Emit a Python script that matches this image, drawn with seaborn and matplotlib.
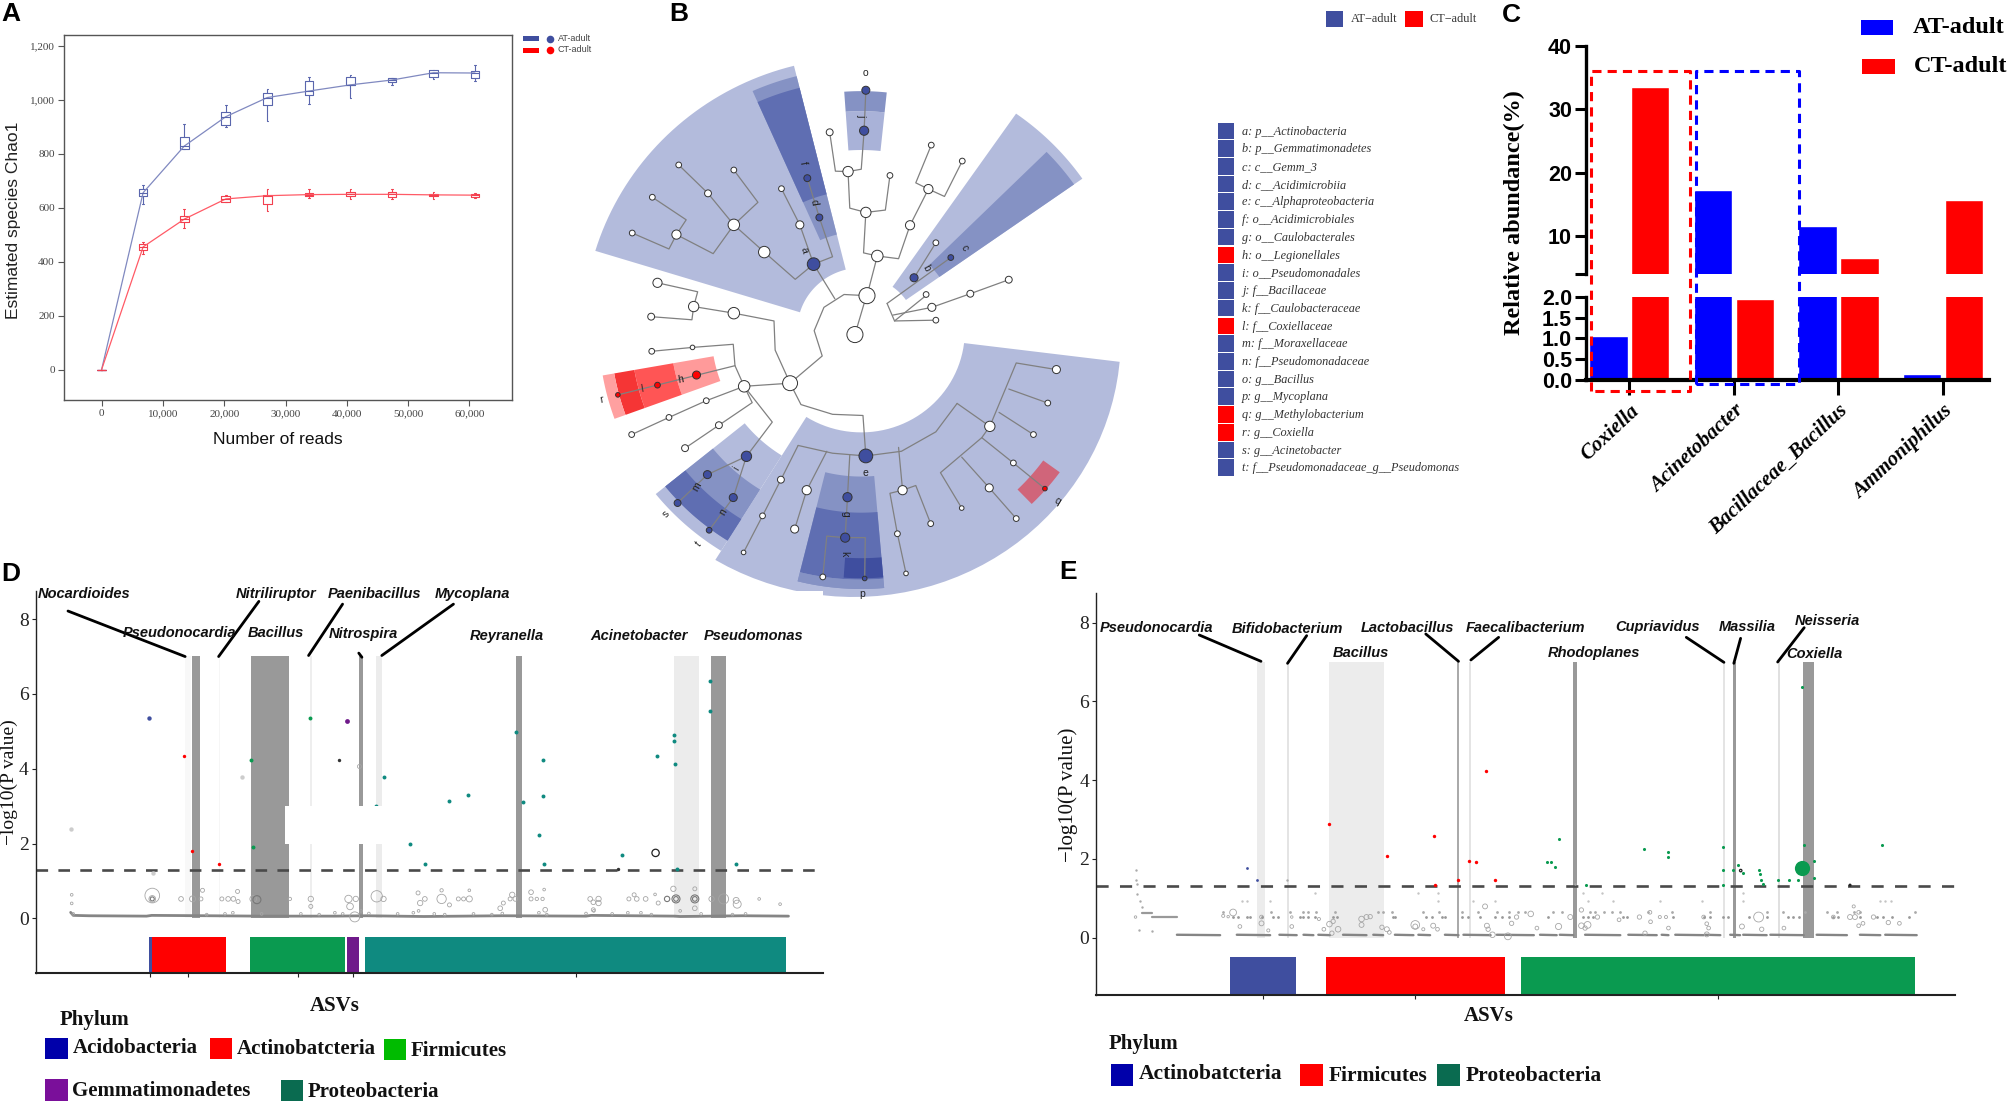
import numpy as np
import pandas as pd
import matplotlib
matplotlib.use('Agg')
import matplotlib.pyplot as plt
import seaborn as sns

# Panel A: rarefaction boxes
reads = [0, 6774, 13484, 20258, 27032, 33806, 40580, 47355, 54129, 60903]
at_low = [0, 613, 818, 898, 923, 986, 1009, 1056, 1076, 1070]
at_q1 = [0, 643, 818, 909, 982, 1017, 1054, 1068, 1084, 1082]
at_med = [0, 656, 829, 938, 1009, 1033, 1056, 1074, 1101, 1100]
at_q3 = [0, 670, 861, 957, 1027, 1072, 1084, 1080, 1111, 1106]
at_high = [0, 684, 910, 981, 1042, 1087, 1091, 1082, 1113, 1128]
ct_low = [0, 430, 524, 622, 590, 637, 634, 634, 633, 638]
ct_q1 = [0, 445, 546, 623, 615, 643, 642, 640, 642, 641]
ct_med = [0, 455, 558, 633, 645, 649, 650, 650, 648, 647]
ct_q3 = [0, 465, 568, 643, 648, 655, 657, 659, 653, 653]
ct_high = [0, 472, 597, 649, 671, 668, 668, 668, 657, 656]

# Panel B: cladogram, in layout units
wedge_t1 = [104, 104, 104, 84, 84, 35, 35, -122, -141, -141, -141, -104, -104, -104, -94, -46, -170, -170, -170, -170]
wedge_t2 = [163, 114, 114, 94, 94, 55, 44.5, -7, -122, -122, -122, -85, -85, -85, -85, -36, -160, -160, -160, -160]
wedge_r0 = [0.235, 0.37, 0.525, 0.675, 0.82, 0.2, 0.35, 0.38, 0.55, 0.70, 0.83, 0.545, 0.68, 0.93, 0.85, 0.825, 0.55, 0.70, 0.845, 0.92]
wedge_r1 = [1.02, 0.98, 0.935, 0.82, 0.895, 0.99, 0.953, 1.01, 0.97, 0.925, 0.925, 0.965, 0.93, 0.965, 0.925, 0.9, 0.70, 0.845, 0.92, 0.963]
wedge_r1_end = [1.02, 0.98, 0.935, 0.82, 0.895, 0.99, 0.953, 0.955, 0.97, 0.925, 0.925, 0.965, 0.93, 0.965, 0.925, 0.9, 0.70, 0.845, 0.92, 0.963]
wedge_colors = ['#b3bbdc', '#8592c4', '#5f6eb2', '#a9b2d8', '#8592c4', '#b3bbdc', '#8592c4', '#b3bbdc', '#b3bbdc',
                '#8592c4', '#5f6eb2', '#8592c4', '#5f6eb2', '#8592c4', '#3f4e9f', '#d0657a', '#ff9a9a', '#ff5555', '#f53535', '#ffa0a0']
white_x = [479, 500, 518, 498, 467, 575, 607, 612, 666, 540, 435, 321, 268, 168, 223, 268, 172, 126, 91, 351, 383, 135, 198, 268,
           124, 125, 196, 366, 286, 220, 155, 90, 242, 183, 350, 395, 318, 374, 285, 562, 611, 553, 568, 423, 714, 790, 815, 830,
           755, 713, 760, 665, 620, 603, 613, 680, 747, 620]
white_y = [860, 760, 658, 546, 441, 579, 486, 373, 414, 451, 340, 648, 578, 603, 497, 437, 424, 507, 599, 485, 578, 727, 788, 805,
           814, 903, 893, 985, 993, 1030, 1073, 1117, 1093, 1152, 1233, 1260, 1326, 1360, 1420, 1260, 1346, 1372, 1474, 1483, 1096,
           1117, 1036, 950, 1190, 1254, 1333, 1306, 624, 757, 790, 755, 719, 823]
white_r = [14, 14, 10, 9, 9, 8, 8, 5, 5, 5, 6, 10, 10, 8, 6, 5, 5, 5, 5, 5, 7, 8, 9, 10, 6, 5, 4, 13, 10, 5, 5, 5, 6, 6, 6, 8, 5, 7, 4,
           8, 5, 5, 4, 5, 9, 5, 5, 7, 5, 7, 5, 4, 5, 5, 7, 6, 6, 5]
blue_x = [498, 495, 396, 417, 407, 582, 646, 290, 222, 267, 170, 225, 498, 466, 462, 496]
blue_y = [232, 336, 458, 559, 679, 714, 662, 1173, 1220, 1279, 1293, 1363, 1172, 1278, 1382, 1487]
blue_r = [7, 8, 6, 6, 11, 7, 5, 9, 7, 7, 6, 5, 12, 8, 8, 4]
red_x = [203, 135, 66, 810]
red_y = [964, 990, 1015, 1256]
red_r = [7, 5, 4, 4]
tree_lines = [
    [(497, 770), (479, 860)],
    [(500, 760), (460, 757), (425, 790), (408, 850), (422, 915), (366, 985)],
    [(444, 768), (407, 679)],
    [(407, 679), (375, 718), (321, 648), (268, 578)],
    [(407, 679), (440, 660), (417, 559), (396, 458)],
    [(407, 679), (383, 578), (351, 485)],
    [(268, 578), (310, 520), (268, 437)],
    [(268, 578), (223, 497), (172, 424)],
    [(268, 578), (232, 652), (168, 603), (185, 565), (126, 507)],
    [(168, 603), (155, 640), (91, 599)],
    [(500, 760), (518, 658), (494, 650), (498, 546), (470, 535), (467, 441), (445, 440), (435, 340)],
    [(467, 441), (490, 435), (495, 336), (498, 232)],
    [(518, 658), (555, 665), (575, 579), (607, 486), (585, 470), (612, 373)],
    [(607, 486), (635, 505), (666, 414)],
    [(498, 546), (532, 540), (540, 451)],
    [(535, 780), (646, 662)],
    [(582, 714), (620, 624)],
    [(535, 780), (548, 825), (620, 823)],
    [(548, 825), (605, 757)],
    [(545, 810), (613, 790), (680, 755), (747, 719)],
    [(366, 985), (340, 900), (338, 825), (268, 805), (198, 788), (205, 750), (135, 727)],
    [(198, 788), (195, 822), (124, 814)],
    [(366, 985), (286, 993), (270, 940), (267, 885), (196, 893), (125, 903)],
    [(286, 993), (220, 1030), (155, 1073), (90, 1117)],
    [(286, 993), (300, 1035), (242, 1093), (183, 1152)],
    [(286, 993), (335, 1085), (290, 1173), (222, 1220), (170, 1293)],
    [(290, 1173), (267, 1279), (225, 1363)],
    [(366, 985), (385, 1040), (440, 1065), (493, 1068), (498, 1172)],
    [(380, 1145), (440, 1165), (498, 1172), (560, 1160), (620, 1110), (657, 1037)],
    [(380, 1145), (350, 1233), (318, 1326), (285, 1420)],
    [(430, 1160), (395, 1260), (374, 1360)],
    [(470, 1170), (466, 1278), (462, 1382), (430, 1378), (423, 1483)],
    [(462, 1382), (497, 1382), (496, 1487)],
    [(555, 1150), (562, 1260), (540, 1268), (553, 1372), (568, 1474)],
    [(562, 1260), (585, 1248), (611, 1346)],
    [(657, 1037), (714, 1096), (760, 933), (830, 950)],
    [(747, 1000), (815, 1036)],
    [(730, 1060), (790, 1117)],
    [(714, 1096), (700, 1125), (755, 1190), (810, 1256)],
    [(700, 1125), (628, 1215), (665, 1306)],
    [(665, 1175), (713, 1254), (760, 1333)],
    [(270, 940), (66, 1015)],
]
clade_letters = ['f', 'd', 'a', 'j', 'b', 'c', 'h', 'l', 'r', 'i', 'm', 'n', 's', 't', 'e', 'g', 'k', 'p', 'q', 'o']
letter_x = [388, 408, 390, 490, 603, 670, 176, 107, 38, 273, 203, 250, 150, 207, 498, 462, 460, 492, 832, 498]
letter_y = [420, 520, 642, 295, 688, 638, 975, 1000, 1028, 1205, 1252, 1315, 1322, 1398, 1215, 1320, 1424, 1528, 1288, 188]
letter_rot = [-80, -80, -75, -90, -60, -60, 10, 10, 10, 60, 60, 60, 50, 50, 0, -90, -90, 0, -30, 0]
clade_legend = ['a: p__Actinobacteria', 'b: p__Gemmatimonadetes', 'c: c__Gemm_3', 'd: c__Acidimicrobiia', 'e: c__Alphaproteobacteria',
                'f: o__Acidimicrobiales', 'g: o__Caulobacterales', 'h: o__Legionellales', 'i: o__Pseudomonadales', 'j: f__Bacillaceae',
                'k: f__Caulobacteraceae', 'l: f__Coxiellaceae', 'm: f__Moraxellaceae', 'n: f__Pseudomonadaceae', 'o: g__Bacillus',
                'p: g__Mycoplana', 'q: g__Methylobacterium', 'r: g__Coxiella', 's: g__Acinetobacter', 't: f__Pseudomonadaceae_g__Pseudomonas']
clade_legend_group = ['AT', 'AT', 'AT', 'AT', 'AT', 'AT', 'AT', 'CT', 'AT', 'AT', 'AT', 'CT', 'AT', 'AT', 'AT', 'AT', 'CT', 'CT', 'AT', 'AT']

# Panel C: relative abundance
genera = ['Coxiella', 'Acinetobacter', 'Bacillaceae_Bacillus', 'Ammoniphilus']
at_abundance = [1.05, 17.2, 11.5, 0.15]
ct_abundance = [33.5, 1.95, 6.5, 15.6]

# Panel D: manhattan plot
d_band_start = [354, 366, 418, 480, 592, 686, 719, 987, 1288, 1358]
d_band_end = [365, 383, 420, 553, 597, 694, 730, 998, 1336, 1387]
d_band_shade = ['#f8f8f8', '#999999', '#f6f6f6', '#999999', '#eeeeee', '#999999', '#ececec', '#999999', '#ececec', '#999999']
d_phylum_start = [284, 290, 478, 664, 698]
d_phylum_end = [290, 432, 660, 687, 1503]
d_blue_x = [285]
d_blue_y = [5.35]
d_red_x = [352, 366, 418]
d_red_y = [4.35, 1.8, 1.45]
d_green_x = [480, 484, 593]
d_green_y = [4.22, 1.91, 5.35]
d_purple_x = [664]
d_purple_y = [5.28]
d_teal_x = [733, 718, 783, 813, 859, 895, 987, 999, 1037, 1038, 1030, 1039, 1189, 1255, 1289, 1289, 1290, 1293, 1357, 1357, 1407]
d_teal_y = [3.78, 3.0, 1.98, 1.45, 3.15, 3.3, 4.98, 3.1, 4.23, 3.28, 2.23, 1.45, 1.69, 4.34, 4.91, 4.75, 4.12, 1.33, 6.35, 5.55, 1.45]
d_open_x = [291, 291, 137, 137, 346, 368, 387, 384, 424, 436, 446, 455, 454, 484, 554, 594, 594, 666, 669, 680,
            678, 720, 733, 799, 803, 812, 844, 844, 859, 876, 886, 897, 897, 956, 962, 979, 975, 985, 1015, 1015,
            1026, 1037, 1042, 1040, 1128, 1134, 1144, 1144, 1134, 1202, 1212, 1217, 1234, 1252, 1258, 1287, 1328, 1328, 1360, 1383,
            1407, 1409, 1451, 1491]
d_open_y = [0.61, 0.52, 0.63, 0.4, 0.52, 0.52, 0.75, 0.52, 0.52, 0.52, 0.52, 0.45, 0.72, 0.52, 0.52, 0.52, 0.32, 0.52, 0.32, 0.52,
            0.04, 0.59, 0.52, 0.68, 0.41, 0.52, 0.52, 0.75, 0.36, 0.52, 0.52, 0.52, 0.75, 0.27, 0.41, 0.63, 0.52, 0.52, 0.70, 0.52,
            0.52, 0.52, 0.23, 0.77, 0.52, 0.43, 0.52, 0.41, 0.23, 0.52, 0.63, 0.52, 0.52, 0.64, 0.41, 0.79, 0.79, 0.27, 0.52, 0.52,
            0.48, 0.38, 0.52, 0.38]
d_open_r = [22, 10, 4, 4, 7, 9, 6, 6, 6, 7, 7, 6, 6, 10, 5, 8, 6, 11, 10, 8, 15, 17, 8, 6, 8, 7, 14, 5, 6, 6, 6, 9, 4, 7, 6, 8, 6, 7, 7, 6,
            5, 5, 7, 4, 7, 7, 8, 8, 6, 6, 6, 7, 7, 4, 6, 8, 6, 7, 8, 15, 9, 12, 4, 4]
d_dark_x = [291, 491, 1275, 1292, 1292, 1328, 1328]
d_dark_y = [0.52, 0.5, 0.52, 0.52, 0.52, 0.52, 0.52]
d_dark_r = [6, 12, 8, 12, 7, 12, 7]
d_low_x = [140, 395, 430, 445, 500, 575, 610, 640, 655, 690, 705, 760, 790, 800, 830, 850, 905, 940, 960, 1030,
           1045, 1120, 1135, 1170, 1200, 1225, 1245, 1300, 1340, 1400, 1425]
d_low_y = [0.12, 0.1, 0.12, 0.15, 0.12, 0.12, 0.1, 0.15, 0.12, 0.2, 0.13, 0.12, 0.15, 0.2, 0.12, 0.1, 0.12, 0.1, 0.13, 0.15,
           0.1, 0.13, 0.2, 0.12, 0.15, 0.15, 0.1, 0.2, 0.12, 0.1, 0.12]
d_pale_x = [135, 462, 293]
d_pale_y = [2.4, 3.78, 1.2]
d_base_x = [135, 140, 170, 280, 290, 400, 500, 640, 700, 810, 960, 1120, 1130, 1290, 1300, 1420, 1507]
d_base_y = [0.16, 0.08, 0.07, 0.06, 0.08, 0.07, 0.06, 0.06, 0.07, 0.05, 0.07, 0.06, 0.08, 0.06, 0.05, 0.07, 0.06]

# Panel E: manhattan plot
e_band_start = [352, 400, 469, 675, 695, 864, 1107, 1122, 1195, 1236]
e_band_end = [365, 404, 558, 679, 698, 870, 1109, 1127, 1198, 1254]
e_band_shade = ['#ececec', '#e4e4e4', '#ececec', '#aaaaaa', '#e4e4e4', '#999999', '#e4e4e4', '#999999', '#e0e0e0', '#999999']
e_phylum_start = [308, 463, 780]
e_phylum_end = [415, 753, 1417]
e_blue_x = [335, 351]
e_blue_y = [1.77, 1.45]
e_red_x = [468, 562, 638, 640, 695, 706, 723, 737, 677]
e_red_y = [2.89, 2.06, 2.59, 1.33, 1.95, 1.92, 4.22, 1.45, 1.45]
e_green_x = [840, 822, 828, 834, 885, 978, 1017, 1017, 1107, 1107, 1107, 1122, 1131, 1138, 1165, 1167, 1168, 1171, 1195, 1214, 1227,
             1234, 1237, 1254, 1254, 1364]
e_green_y = [2.5, 1.92, 1.92, 1.78, 1.33, 2.24, 2.16, 2.05, 2.31, 1.72, 1.33, 1.72, 1.84, 1.63, 1.72, 1.62, 1.45, 1.35, 1.45, 1.45, 1.45,
             6.36, 2.34, 1.95, 1.5, 2.35]
e_big_x = [1235]
e_big_y = [1.76]
e_gray_x = [155, 155, 158, 158, 162, 165, 160, 182, 400, 866]
e_gray_y = [1.72, 1.45, 1.35, 1.1, 0.94, 0.78, 0.2, 0.17, 1.45, 1.35]
e_open_x = [313, 297, 305, 324, 359, 359, 370, 408, 408, 452, 460, 469, 475, 483, 473, 521, 529, 535, 521, 554, 562, 566, 608, 608, 621,
            637, 644, 721, 724, 726, 733, 758, 772, 764, 795, 805, 877, 859, 840, 887, 877, 883, 903, 938, 971, 988, 989, 1004, 1014, 1018,
            980, 1075, 1080, 1083, 1080, 1137, 1164, 1169, 1205, 1285, 1312, 1320, 1326, 1326, 1333, 1350, 1374, 1392, 1318, 155]
e_open_y = [0.635, 0.55, 0.53, 0.28, 0.52, 0.36, 0.18, 0.52, 0.28, 0.47, 0.21, 0.34, 0.41, 0.21, 0.11, 0.47, 0.52, 0.53, 0.32, 0.26, 0.21,
            0.13, 0.32, 0.28, 0.21, 0.3, 0.21, 0.79, 0.3, 0.21, 0.07, 0.03, 0.52, 0.36, 0.6, 0.24, 0.7, 0.52, 0.28, 0.32, 0.3, 0.24, 0.52,
            0.45, 0.52, 0.64, 0.4, 0.52, 0.52, 0.24, 0.11, 0.52, 0.35, 0.24, 0.08, 0.28, 0.52, 0.21, 0.24, 0.52, 0.52, 0.52, 0.64, 0.3, 0.36,
            0.52, 0.38, 0.36, 0.79, 0.52]
e_open_r = [5.5, 2.5, 2, 3, 3, 4, 2.5, 2, 3, 2.5, 3, 4.5, 3.5, 4.5, 3.5, 4.5, 4, 3.5, 4, 3.5, 4, 3, 7, 4, 2.5, 4, 3, 4, 4, 3.5, 4.5, 5.5, 3.5,
            3.5, 4.5, 3, 3.5, 4, 5, 5.5, 4.5, 3.5, 3.5, 3, 3.5, 3, 3, 2.5, 2.5, 3, 3.5, 3, 3, 3, 4, 4, 8, 3.5, 3, 3, 4, 4, 3, 3, 3, 3.5, 3.5, 3, 2.5, 2]
e_row_52 = [313, 321, 335, 341, 359, 378, 386, 421, 427, 435, 445, 475, 481, 572, 575, 626, 635, 651, 656, 683, 694, 713, 737, 748, 759,
            823, 880, 888, 896, 945, 951, 1026, 1075, 1085, 1107, 1115, 1148, 1177, 1212, 1220, 1229, 1237, 1245, 1285, 1293, 1328, 1355, 1366, 1380, 1408]
e_row_66 = [297, 375, 405, 427, 435, 448, 478, 548, 556, 570, 621, 647, 683, 710, 740, 759, 775, 786, 831, 845, 891, 899, 913, 926, 940, 985,
            1023, 1085, 1177, 1204, 1239, 1274, 1291, 1318, 1328, 1417]
e_row_94 = [327, 335, 372, 645, 702, 737, 887, 929, 1005, 1073, 1138, 1360, 1369, 1379]
e_row_113 = [445, 612, 644, 879, 910, 1138]
e_base_start = [222, 319, 388, 427, 451, 491, 540, 575, 613, 656, 686, 740, 810, 842, 883, 953, 1007, 1029, 1077, 1118, 1139, 1183, 1258, 1328, 1369]
e_base_end = [292, 373, 416, 443, 470, 529, 556, 605, 632, 678, 730, 800, 837, 864, 940, 999, 1018, 1075, 1102, 1134, 1177, 1237, 1307, 1361, 1420]
e_short_start = [165, 182]
e_short_end = [181, 222]
e_short_y = [0.63, 0.52]

d_labels = ['Nocardioides', 'Nitriliruptor', 'Paenibacillus', 'Mycoplana', 'Pseudonocardia', 'Bacillus', 'Nitrospira', 'Reyranella', 'Acinetobacter', 'Pseudomonas']
e_labels = ['Pseudonocardia', 'Bifidobacterium', 'Lactobacillus', 'Faecalibacterium', 'Cupriavidus', 'Massilia', 'Neisseria', 'Bacillus', 'Rhodoplanes', 'Coxiella']

W, H = 2008, 1101
BLUE, RED, GREEN, PURPLE, TEAL = '#3f4e9f', '#ff0000', '#0a9a50', '#6f1a8a', '#0f8a80'

sns.set_theme(style='white')
plt.rcParams['font.family'] = ['Liberation Sans', 'DejaVu Sans']
fig = plt.figure(figsize=(W / 100, H / 100), dpi=100)


def px_axes(x0, y0, x1, y1):
    return fig.add_axes([x0 / W, 1 - y1 / H, (x1 - x0) / W, (y1 - y0) / H])


# Panel A
rows = []
for group, stats in [('AT', [at_low, at_q1, at_med, at_q3, at_high]), ('CT', [ct_low, ct_q1, ct_med, ct_q3, ct_high])]:
    for stat in stats:
        rows.append(pd.DataFrame({'reads': reads, 'chao': stat, 'group': group}))
box_df = pd.concat(rows)
med_df = pd.concat([pd.DataFrame({'reads': reads, 'chao': at_med, 'group': 'AT'}),
                    pd.DataFrame({'reads': reads, 'chao': ct_med, 'group': 'CT'})])

ax = px_axes(64.5, 35, 512.5, 399.5)
sns.boxplot(data=box_df, x='reads', y='chao', hue='group', palette={'AT': '#5a66ad', 'CT': '#f2404f'}, native_scale=True, dodge=False,
            fill=False, whis=(0, 100), width=0.21, linewidth=0.8, capwidths=250, legend=False, ax=ax)
sns.lineplot(data=med_df, x='reads', y='chao', hue='group', palette={'AT': '#8089c0', 'CT': '#ff5a66'}, estimator=None, linewidth=0.9, legend=False, ax=ax)
ax.set_xlim(-6052, 67030)
ax.set_ylim(-111, 1241)
ax.set_xticks(range(0, 60001, 10000))
ax.set_xticklabels([f'{v:,}' for v in range(0, 60001, 10000)], fontsize=8, family='Liberation Serif', color='#444444')
ax.set_yticks(range(0, 1201, 200))
ax.set_yticklabels([f'{v:,}' for v in range(0, 1201, 200)], fontsize=8, family='Liberation Serif', color='#444444')
ax.tick_params(length=4, width=0.8, color='#555555', bottom=True, left=True, pad=3)
for side in ax.spines.values():
    side.set_color('#555555')
    side.set_linewidth(1)
ax.set_xlabel('')
ax.set_ylabel('')

# Panel B
ax = px_axes(580, 0, 1480, 610)
ax.set_xlim(0, 1568)
ax.set_ylim(1568, 0)
ax.axis('off')
for t1, t2, r0, r1, r1b, col in zip(wedge_t1, wedge_t2, wedge_r0, wedge_r1, wedge_r1_end, wedge_colors):
    t = np.radians(np.linspace(t1, t2, 40))
    outer = np.linspace(r1, r1b, 40)
    xs = np.r_[outer * np.cos(t), r0 * np.cos(t[::-1])]
    ys = np.r_[outer * np.sin(t), r0 * np.sin(t[::-1])]
    ax.fill(490 + 475 * xs, 850 - 688 * ys, color=col, lw=0, zorder=1)
for line in tree_lines:
    xs, ys = zip(*line)
    ax.plot(xs, ys, color='#808080', lw=0.9, zorder=2)


def nodes(ax, x, y, r, col):
    sizes = [(2 * v / 1.742 * 0.72) ** 2 for v in r]
    sns.scatterplot(x=x, y=y, s=sizes, color=col, edgecolor='#333333', linewidth=0.7, zorder=3, ax=ax)


nodes(ax, white_x, white_y, white_r, 'white')
nodes(ax, blue_x, blue_y, blue_r, BLUE)
nodes(ax, red_x, red_y, red_r, RED)
for name, x, y, rot in zip(clade_letters, letter_x, letter_y, letter_rot):
    ax.text(x, y, name, fontsize=7.5, rotation=rot, ha='center', va='center', color='#222222', zorder=4)
ax.set_xlim(0, 1568)
ax.set_ylim(1568, 0)

# Panel C
bar_df = pd.DataFrame({'genus': genera * 2, 'abundance': at_abundance + ct_abundance, 'group': ['AT'] * 4 + ['CT'] * 4})
ax_top = px_axes(1586, 45.7, 1989, 274)
ax_low = px_axes(1586, 296.7, 1989, 380)
for ax in [ax_top, ax_low]:
    sns.barplot(data=bar_df, x='genus', y='abundance', hue='group', palette={'AT': '#0000ff', 'CT': '#ff0000'}, width=0.8, gap=0.08,
                saturation=1, legend=False, ax=ax)
    ax.set_xlim(-0.414, 3.44)
    ax.set_xlabel('')
    ax.set_ylabel('')
    for name in ['top', 'right']:
        ax.spines[name].set_visible(False)
    ax.spines['left'].set_linewidth(2.4)
    ax.spines['left'].set_color('black')
    ax.tick_params(axis='y', left=True, length=8, width=2.2, color='black', pad=2)
ax_top.set_ylim(4, 40)
ax_top.set_yticks([4, 10, 20, 30, 40])
ax_top.set_yticklabels(['', '10', '20', '30', '40'], fontsize=15.5, fontweight='bold', color='black')
ax_top.spines['bottom'].set_visible(False)
ax_top.set_xticks([])
ax_low.set_ylim(0, 2)
ax_low.set_yticks([0, 0.5, 1, 1.5, 2])
ax_low.set_yticklabels(['0.0', '0.5', '1.0', '1.5', '2.0'], fontsize=15.5, fontweight='bold', color='black')
ax_low.spines['bottom'].set_linewidth(3)
ax_low.spines['bottom'].set_color('black')
ax_low.tick_params(axis='x', bottom=True, length=11, width=2.2, color='black', pad=4)
ax_low.set_xticks(range(4))
ax_low.set_xticklabels(genera, rotation=43, ha='right', rotation_mode='anchor', fontsize=15, fontweight='bold', style='italic',
                       family='Liberation Serif', color='black')


# Panels D and E
def manhattan(box, xlim, bands, shades, phyla, phyla_colors, ticks, dashes):
    ax = px_axes(*box)
    for x0, x1, shade in zip(bands[0], bands[1], shades):
        ax.fill_between([x0, x1], 0, 7, color=shade, lw=0, zorder=1)
    for x0, x1, col in zip(phyla[0], phyla[1], phyla_colors):
        ax.fill_between([x0, x1], -1.6, -0.5, color=col, lw=0, zorder=1)
    ax.axhline(1.3, color='#4a4a4a', lw=1.9, dashes=dashes, zorder=2)
    ax.set_xlim(*xlim)
    ax.set_ylim(-1.46, 8.75)
    ax.set_xticks(ticks)
    ax.set_xticklabels([])
    ax.set_yticks([0, 2, 4, 6, 8])
    ax.set_yticklabels(['0', '2', '4', '6', '8'], fontsize=14, family='Liberation Serif', color='#222222')
    ax.tick_params(length=3, width=0.8, bottom=True, left=True, pad=2, color='#222222')
    for name in ['top', 'right']:
        ax.spines[name].set_visible(False)
    ax.spines['left'].set_color('#222222')
    ax.spines['left'].set_linewidth(1)
    ax.spines['bottom'].set_color('#222222')
    ax.spines['bottom'].set_linewidth(1.5)
    return ax


def dots(ax, x, y, col, size=6):
    sns.scatterplot(x=x, y=y, color=col, s=size, linewidth=0, zorder=4, ax=ax)


def rings(ax, x, y, r, scale, col='#a6a6a6', lw=0.6):
    sizes = [(2 * v / scale * 0.72) ** 2 for v in r]
    sns.scatterplot(x=x, y=y, s=sizes, facecolor='none', edgecolor=col, linewidth=lw, zorder=3, ax=ax)


ax_d = manhattan((35.6, 591, 823, 973), (68, 1573), (d_band_start, d_band_end), d_band_shade, (d_phylum_start, d_phylum_end),
                 [BLUE, RED, GREEN, PURPLE, TEAL], [287, 360, 569, 675, 1101], (4.4, 3.9))
sns.lineplot(x=d_base_x, y=d_base_y, color='#858585', lw=2, estimator=None, zorder=3, ax=ax_d)
rings(ax_d, d_open_x, d_open_y, d_open_r, 3)
rings(ax_d, d_dark_x, d_dark_y, d_dark_r, 3, '#777777', 0.8)
rings(ax_d, d_low_x, d_low_y, [4] * len(d_low_x), 3)
rings(ax_d, [687], [4.06], [6], 3)
dots(ax_d, d_pale_x, d_pale_y, '#cccccc', 10)
dots(ax_d, d_blue_x, d_blue_y, BLUE, 10)
dots(ax_d, d_red_x, d_red_y, RED)
dots(ax_d, d_green_x, d_green_y, GREEN, 8)
dots(ax_d, d_purple_x, d_purple_y, PURPLE, 12)
dots(ax_d, d_teal_x, d_teal_y, TEAL, 8)
rings(ax_d, [1253], [1.75], [7], 1.912, '#222222', 0.9)
dots(ax_d, [648, 1182], [4.22, 1.32], '#333333')
ax_d.fill_between([545, 770], 2, 3, color='white', lw=0, zorder=5)
ax_d.set_xlim(68, 1573)

ax_e = manhattan((1096, 593, 1955, 995), (91, 1482), (e_band_start, e_band_end), e_band_shade, (e_phylum_start, e_phylum_end),
                 [BLUE, RED, GREEN], [361, 608, 1099], (4.6, 4.3))
for x0, x1 in zip(e_base_start, e_base_end):
    sns.lineplot(x=[x0, x1], y=[0.07, 0.06], color='#858585', lw=1.7, estimator=None, zorder=3, ax=ax_e)
for x0, x1, y in zip(e_short_start, e_short_end, e_short_y):
    sns.lineplot(x=[x0, x1], y=[y, y], color='#999999', lw=1.6, estimator=None, zorder=3, ax=ax_e)
rings(ax_e, e_open_x, e_open_y, e_open_r, 1.62)
dots(ax_e, e_row_52, [0.52] * len(e_row_52), '#999999', 4)
dots(ax_e, e_row_66, [0.66] * len(e_row_66), '#aaaaaa', 4)
dots(ax_e, e_row_94, [0.94] * len(e_row_94), '#c4c4c4', 3)
dots(ax_e, e_row_113, [1.13] * len(e_row_113), '#c4c4c4', 3)
dots(ax_e, e_gray_x, e_gray_y, '#aaaaaa', 3)
dots(ax_e, e_blue_x, e_blue_y, BLUE, 4)
dots(ax_e, e_red_x, e_red_y, RED, 6)
dots(ax_e, e_green_x, e_green_y, GREEN, 5)
dots(ax_e, e_big_x, e_big_y, GREEN, 120)
rings(ax_e, [1135, 1312], [1.7, 1.33], [2, 1.5], 1.62, '#222222', 0.9)
ax_e.set_xlim(91, 1482)

# Overlay for labels and legends, in pixels
ov = fig.add_axes([0, 0, 1, 1], facecolor='none')
ov.set_xlim(0, W)
ov.set_ylim(H, 0)
ov.axis('off')


def swatch(x0, y0, x1, y1, col):
    ov.fill_between([x0, x1], y0, y1, color=col, lw=0)


def label(x, y, s, size, **kw):
    kw.setdefault('ha', 'left')
    kw.setdefault('va', 'center')
    ov.text(x, y, s, fontsize=size, **kw)


for x, y, s in [(1, 14, 'A'), (669, 14, 'B'), (1502, 15, 'C'), (1, 574, 'D'), (1059, 572, 'E')]:
    label(x, y, s, 19, fontweight='bold', color='black')

# A
label(14, 220, 'Estimated species Chao1', 12.5, rotation=90, ha='center', color='#222222')
label(278, 439, 'Number of reads', 12.5, ha='center', color='#111111')
for y, col, s in [(38.5, BLUE, 'AT-adult'), (50, RED, 'CT-adult')]:
    swatch(523, y - 2.5, 539, y + 2.5, col)
    sns.scatterplot(x=[550], y=[y], color=col, s=30, linewidth=0, ax=ov)
    label(557.5, y, s, 6.5, color='#444444')

# B
swatch(1326, 10.5, 1343.5, 27, BLUE)
label(1351, 19, 'AT\u2212adult', 8.8, family='Liberation Serif', color='#333333')
swatch(1405.5, 10.5, 1423, 27, RED)
label(1429.6, 19, 'CT\u2212adult', 8.8, family='Liberation Serif', color='#333333')
for i, (s, g) in enumerate(zip(clade_legend, clade_legend_group)):
    y0 = 122.5 + 17.73 * i
    swatch(1218, y0, 1234.4, y0 + 16.6, BLUE if g == 'AT' else RED)
    label(1242, y0 + 9, s, 8.8, family='Liberation Serif', style='italic', color='#333333')

# C
label(1514, 213, 'Relative abundance(%)', 17.5, rotation=90, ha='center', family='Liberation Serif', fontweight='bold', color='black')
swatch(1861, 20, 1893, 35, '#0000ff')
swatch(1862, 58.7, 1895, 73.7, '#ff0000')
label(1913, 27.5, 'AT-adult', 17.5, family='Liberation Serif', fontweight='bold', color='black')
label(1914, 66, 'CT-adult', 17.5, family='Liberation Serif', fontweight='bold', color='black')
ov.plot([1591, 1591, 1690, 1690, 1591], [391, 71, 71, 391, 391], color='#ff0000', lw=2.2, dashes=(3, 2))
ov.plot([1696.5, 1696.5, 1799, 1799, 1696.5], [384, 71, 71, 384, 384], color='#0000ff', lw=2.2, dashes=(3, 2))

# D
d_text_x = [160, 527, 716, 904, 343, 528, 694, 969, 1221, 1440]
d_text_y = [100, 98, 98, 98, 212, 212, 216, 219, 219, 219]
for x, y, s in zip(d_text_x, d_text_y, d_labels):
    label(x / 1.912, 560 + y / 2.9, s, 10.5, ha='center', style='italic', fontweight='bold', color='#111111')
for xs, ys in [([130, 354], [148, 280]), ([495, 418], [120, 280]), ([655, 590], [128, 277]), ([867, 730], [128, 277]), ([686, 692], [270, 282])]:
    ov.plot(np.array(xs) / 1.912, 560 + np.array(ys) / 2.9, color='black', lw=2)
label(9.4, 782, '\u2212log10(P value)', 14, rotation=90, ha='center', family='Liberation Serif', color='#111111')
label(335, 1006, 'ASVs', 15, ha='center', family='Liberation Serif', fontweight='bold', color='#111111')
label(60, 1020, 'Phylum', 15, family='Liberation Serif', fontweight='bold', color='#111111')
d_legend = [(45.5, 1037.6, '#0000aa', 'Acidobacteria', 1048), (210, 1037.6, '#ff0000', 'Actinobatcteria', 1049), (384, 1038.6, '#00bb00', 'Firmicutes', 1051),
            (45.5, 1079, '#7a0f9a', 'Gemmatimonadetes', 1091), (281, 1080, '#0a6b50', 'Proteobacteria', 1092)]
for x, y, col, s, ty in d_legend:
    swatch(x, y, x + 22.5, y + 21.5, col)
    label(x + 27, ty, s, 15, family='Liberation Serif', fontweight='bold', color='#111111')

# E
e_text_x = [189, 401, 596, 787, 1001, 1145, 1275, 520, 898, 1254]
e_text_y = [145, 146, 143, 143, 141, 140, 124, 218, 218, 223]
for x, y, s in zip(e_text_x, e_text_y, e_labels):
    label(1040 + x / 1.62, 580 + y / 3, s, 10.5, ha='center', style='italic', fontweight='bold', color='#111111')
for xs, ys in [([258, 358], [165, 244]), ([432, 401], [167, 250]), ([625, 678], [162, 244]), ([743, 698], [172, 240]),
               ([1047, 1108], [172, 247]), ([1135, 1124], [175, 250]), ([1238, 1195], [143, 246])]:
    ov.plot(1040 + np.array(xs) / 1.62, 580 + np.array(ys) / 3, color='black', lw=2)
label(1068, 795, '\u2212log10(P value)', 15, rotation=90, ha='center', family='Liberation Serif', color='#111111')
label(1489, 1016, 'ASVs', 15, ha='center', family='Liberation Serif', fontweight='bold', color='#111111')
label(1109, 1044, 'Phylum', 15, family='Liberation Serif', fontweight='bold', color='#111111')
e_legend = [(1111, 1064, '#0000aa', 'Actinobatcteria', 1074), (1300.5, 1064, '#ff0000', 'Firmicutes', 1076), (1437.5, 1064, '#0a6b50', 'Proteobacteria', 1076)]
for x, y, col, s, ty in e_legend:
    swatch(x, y, x + 22.5, y + 21.5, col)
    label(x + 28, ty, s, 15.5, family='Liberation Serif', fontweight='bold', color='#111111')
ov.set_xlim(0, W)
ov.set_ylim(H, 0)

fig.savefig('out.png', dpi=100, facecolor='white')
